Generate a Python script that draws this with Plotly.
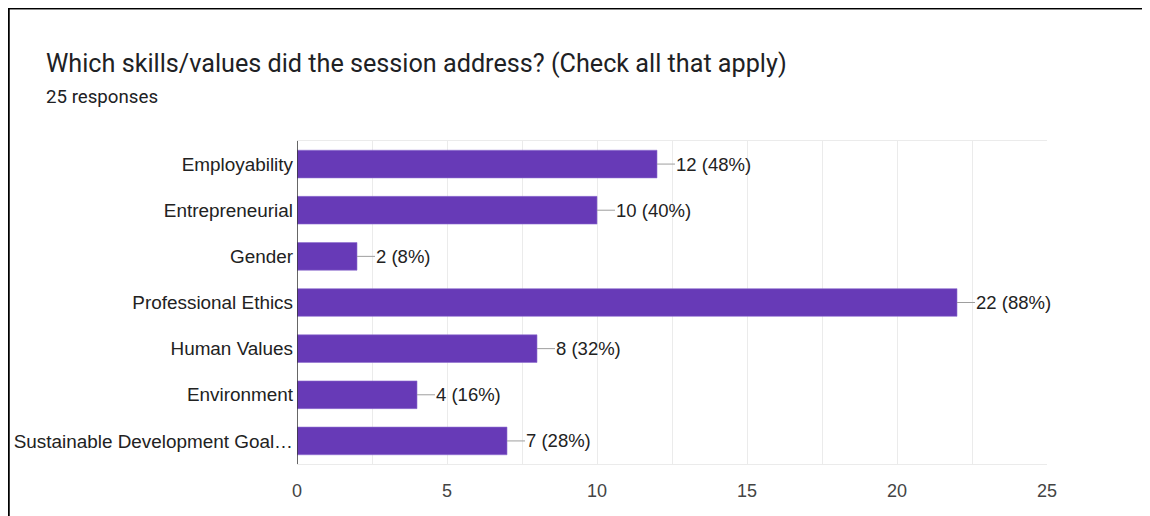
import plotly.graph_objects as go

categories = ["Employability", "Entrepreneurial", "Gender", "Professional Ethics",
              "Human Values", "Environment", "Sustainable Development Goal\u2026"]
counts = [12, 10, 2, 22, 8, 4, 7]
total_responses = 25
title_text = "Which skills/values did the session address? (Check all that apply)"
subtitle_text = f"{total_responses} responses"
x_ticks = [0, 5, 10, 15, 20, 25]

# page body adds an 8px offset; work in screenshot pixels and shift
OFF = 8
W, H = 1150 - OFF, 516 - OFF
L, T = 297 - OFF, 141 - OFF
R = W - (1047 - OFF)
B = H - (464 - OFF)
PW, PH = W - L - R, H - T - B

def px_x(px):
    return (px - OFF - L) / PW

def px_y(py):
    return 1 - (py - OFF - T) / PH

labels = [f"{c} ({round(100 * c / total_responses)}%)" for c in counts]
bar_color = "#673ab7"
connector = 0.6  # in axis units (~18px)
FONT = "Arial, Liberation Sans, sans-serif"

fig = go.Figure()
fig.add_trace(go.Bar(
    x=counts, y=categories, orientation="h", width=0.6,
    marker=dict(color=bar_color, line=dict(color="#8f6fd0", width=0.6)),
    hoverinfo="skip",
))

shapes = []
annotations = []
for cat, c, lab in zip(categories, counts, labels):
    shapes.append(dict(type="line", xref="x", yref="y", x0=c, x1=c + connector,
                       y0=cat, y1=cat, line=dict(color="#9e9e9e", width=1)))
    annotations.append(dict(xref="x", yref="y", x=c + connector, y=cat, text=lab,
                            showarrow=False, xanchor="left", yanchor="middle", xshift=-1,
                            font=dict(family=FONT, size=18.5, color="#222222")))

# title and subtitle
annotations.append(dict(xref="paper", yref="paper", x=px_x(44), y=px_y(64), text=title_text,
                        showarrow=False, xanchor="left", yanchor="middle",
                        font=dict(family="Roboto, Arial, sans-serif", size=25.2, color="#202124")))
annotations.append(dict(xref="paper", yref="paper", x=px_x(44), y=px_y(97), text=subtitle_text,
                        showarrow=False, xanchor="left", yanchor="middle",
                        font=dict(family="Roboto, Arial, sans-serif", size=18.7, color="#202124")))

# frame of the screenshot (top and left border)
shapes.append(dict(type="line", xref="paper", yref="paper", x0=px_x(8), x1=px_x(1160),
                   y0=px_y(9.5), y1=px_y(9.5), line=dict(color="#bbbbbb", width=1)))
shapes.append(dict(type="line", xref="paper", yref="paper", x0=px_x(8), x1=px_x(1160),
                   y0=px_y(8), y1=px_y(8), line=dict(color="#000000", width=2.5)))
shapes.append(dict(type="line", xref="paper", yref="paper", x0=px_x(8.5), x1=px_x(8.5),
                   y0=px_y(7), y1=px_y(530), line=dict(color="#000000", width=2.5)))

fig.update_layout(
    width=W, height=H,
    margin=dict(l=L, r=R, t=T, b=B, pad=0, autoexpand=False),
    paper_bgcolor="white", plot_bgcolor="white",
    showlegend=False,
    bargap=0.4,
    shapes=shapes,
    annotations=annotations,
    xaxis=dict(range=[0, 25], tickvals=x_ticks, showgrid=True, gridcolor="#ebebeb", gridwidth=1,
               minor=dict(dtick=2.5, showgrid=True, gridcolor="#ebebeb", gridwidth=1),
               zeroline=False, showline=True, linecolor="#ebebeb", mirror=True, ticks="",
               tickfont=dict(family=FONT, size=18, color="#444444"),
               ticklabelstandoff=10, fixedrange=True, automargin=False),
    yaxis=dict(autorange="reversed", showgrid=False, zeroline=False, ticks="",
               showline=False,
               tickfont=dict(family=FONT, size=18.9, color="#222222"),
               ticklabelstandoff=3, fixedrange=True, automargin=False),
)
# dark baseline at x = 0
fig.add_vline(x=0, line=dict(color="#333333", width=1.5))

fig.write_html("out.html")
